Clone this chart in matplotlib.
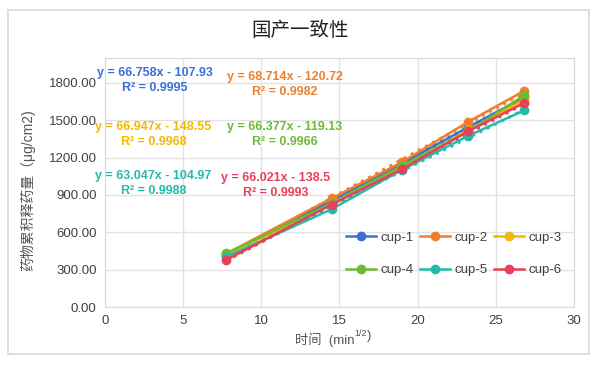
import numpy as np
import matplotlib.pyplot as plt
from matplotlib.patches import Rectangle

plt.rcParams['font.family'] = ['Liberation Sans', 'Noto Sans CJK SC', 'DejaVu Sans']

# data
time_x = [7.75, 14.49, 18.97, 23.24, 26.83]
cups = ['cup-1', 'cup-2', 'cup-3', 'cup-4', 'cup-5', 'cup-6']
cup1 = [415, 855, 1150, 1445, 1685]
cup2 = [428, 872, 1162, 1488, 1737]
cup3 = [420, 825, 1122, 1420, 1665]
cup4 = [430, 832, 1132, 1412, 1700]
cup5 = [402, 785, 1100, 1375, 1580]
cup6 = [378, 822, 1105, 1412, 1640]
series = [cup1, cup2, cup3, cup4, cup5, cup6]
slopes = [66.758, 68.714, 66.947, 66.377, 63.047, 66.021]
intercepts = [-107.93, -120.72, -148.55, -119.13, -104.97, -138.5]
r2 = ['0.9995', '0.9982', '0.9968', '0.9966', '0.9988', '0.9993']
colors = ['#3D6FD6', '#F07E2A', '#F4B800', '#6DBB35', '#25BBAA', '#E8405A']
# label centres in data units (x, y of equation line)
label_pos = [(3.2, 1880), (11.5, 1847), (3.1, 1446), (11.5, 1446), (3.1, 1052), (10.9, 1036)]

W, H = 600, 365
fig = plt.figure(figsize=(6, 3.65), dpi=100)
fig.patches.append(Rectangle((8 / W, 11 / H), 581 / W, 344 / H, transform=fig.transFigure,
                             fill=False, edgecolor='#d9d9d9', lw=1.2))
ax = fig.add_axes([105 / W, (H - 307) / H, 469 / W, 249 / H])

handles = []
for i, ys in enumerate(series):
    h, = ax.plot(time_x, ys, '-o', color=colors[i], lw=1.8, ms=6, label=cups[i], zorder=3)
    handles.append(h)
    xs = np.array([time_x[0], time_x[-1]])
    ax.plot(xs, slopes[i] * xs + intercepts[i], ':', color=colors[i], lw=2.2, zorder=2)
    lx, ly = label_pos[i]
    ax.text(lx, ly, 'y = %gx - %g' % (slopes[i], -intercepts[i]), color=colors[i],
            fontsize=9, fontweight='bold', ha='center', va='center')
    ax.text(lx, ly - 120, 'R² = ' + r2[i], color=colors[i],
            fontsize=9, fontweight='bold', ha='center', va='center')

ax.set_xlim(0, 30)
ax.set_ylim(0, 2000)
ax.set_xticks(range(0, 31, 5))
ax.set_yticks(range(0, 1801, 300))
ax.set_yticklabels(['%.2f' % v for v in range(0, 1801, 300)])
ax.tick_params(length=0, labelsize=9.5, labelcolor='#404040', pad=6)
ax.grid(color='#e3e3e3', lw=1)
ax.set_axisbelow(True)
for s in ax.spines.values():
    s.set_color('#d9d9d9')

fig.text(300 / W, 1 - 30 / H, '国产一致性', fontsize=14, family=['Noto Sans CJK SC'],
         ha='center', va='center', color='#222222')
ax.set_ylabel('药物累积释药量（μg/cm2)', fontsize=10, color='#555555')
ax.yaxis.set_label_coords(-0.149, 0.47)

# x label with superscript, built from pieces
t1 = fig.text(295 / W, 1 - 340 / H, '时间  (min', fontsize=9.5, color='#555555',
              ha='left', va='center')
t2 = ax.annotate('1/2', xy=(1, 0.62), xycoords=t1, fontsize=6.5, color='#555555',
                 ha='left', va='bottom')
ax.annotate(')', xy=(1, 0.05), xycoords=t2, xytext=(0, -3.2), textcoords='offset points',
            fontsize=9.5, color='#555555', ha='left', va='bottom')

order = [0, 3, 1, 4, 2, 5]
ax.legend([handles[k] for k in order], [cups[k] for k in order],
          loc='upper left', bbox_to_anchor=(334 / W, 1 - 220 / H), bbox_transform=fig.transFigure,
          ncol=3, frameon=False, fontsize=9.5,
          handlelength=2.3, columnspacing=0.5, handletextpad=0.3, labelspacing=1.5,
          labelcolor='#404040')

fig.savefig('out.png', dpi=100)
